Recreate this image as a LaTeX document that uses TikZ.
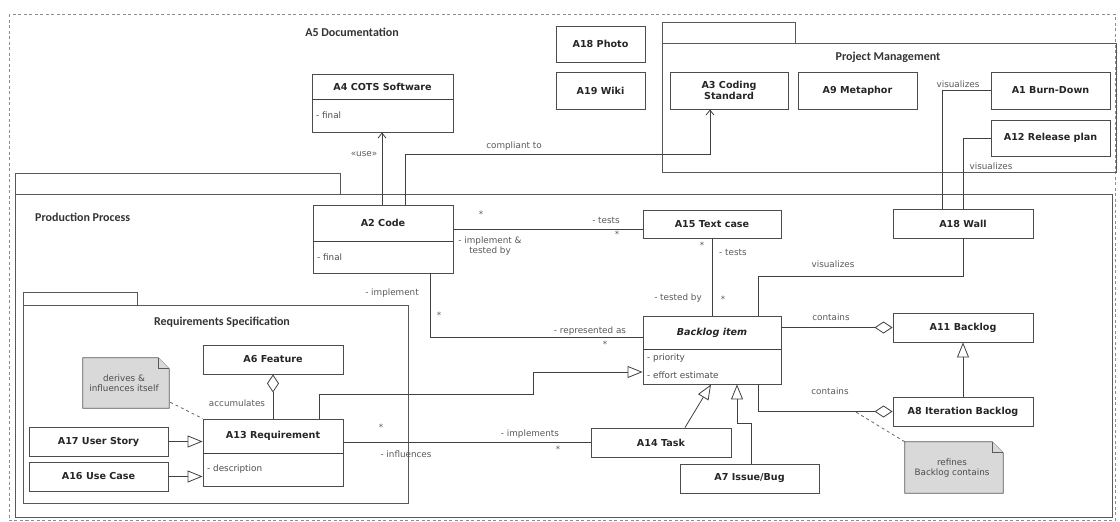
\documentclass[tikz,border=0pt]{standalone}
\usepackage{fontspec}
\setmainfont{Liberation Sans}
\newfontfamily\dvs{DejaVu Sans}
\newfontfamily\pkgfam{Carlito}
\usetikzlibrary{arrows.meta,calc}
\newcommand\clsfont{\dvs\bfseries\fontsize{9.6}{11}\selectfont}
\newcommand\lblfont{\dvs\fontsize{8.8}{10}\selectfont}
\newcommand\pkgfont{\pkgfam\bfseries\fontsize{12}{13.5}\selectfont}
\tikzset{
 cls/.style={draw=black!70, line width=0.9pt, fill=white, inner sep=0pt},
 ttl/.style={font=\clsfont, text=black!85, inner sep=0pt, align=center},
 attr/.style={font=\lblfont, text=black!70, inner sep=0pt, anchor=west},
 lbl/.style={font=\lblfont, text=black!65, inner sep=0pt},
 conn/.style={draw=black!75, line width=0.8pt},
 gen/.style={conn, -{Triangle[open, length=15pt, width=12pt]}},
 dep/.style={conn, -{Straight Barb[length=5pt, width=8pt]}},
 aggr/.style={conn, {Diamond[open, length=18pt, width=12pt]}-},
 notedash/.style={draw=black!60, line width=0.8pt, dashed},
 noteshape/.style={draw=black!65, line width=0.8pt, fill=black!15},
 notetext/.style={font=\lblfont, text=black!70, inner sep=0pt, align=center},
 pkgline/.style={draw=black!65, line width=0.9pt},
 pkgtitle/.style={font=\pkgfont, text=black!80, inner sep=0pt},
 frame/.style={draw=black!45, line width=1pt, dash pattern=on 3pt off 2.5pt},
}
\begin{document}
\begin{tikzpicture}[x=1pt,y=-1pt]
\useasboundingbox (0,0) rectangle (1120,522);
% outer dashed frame (A5 Documentation)
\draw[frame] (9,14) rectangle (1115,520);
\node[pkgtitle] (docT) at (352,32) {A5 Documentation};

% Project Management package
\draw[pkgline] (662,43) rectangle (795,22);
\draw[pkgline] (662,43) rectangle (1116,172);
\node[pkgtitle] (pmT) at (888,57) {Project Management};

% Production Process package
\draw[pkgline] (15,194) rectangle (340,173);
\draw[pkgline] (15,194) rectangle (1112,517);
\node[pkgtitle, anchor=west] (ppT) at (35,217) {Production Process};

% Requirements Specification package
\draw[pkgline] (23,305) rectangle (137,292);
\draw[pkgline] (23,305) rectangle (408,503);
\node[pkgtitle] (rsT) at (222,322) {Requirements Specification};

% ---- classes ----
\node[cls, minimum width=141, minimum height=58] (a4) at (382.5,103) {};
\draw[conn] (a4.west |- 0,99) -- (a4.east |- 0,99);
\node[ttl] (a4t) at (382.5,87) {A4 COTS Software};
\node[attr] (a4a) at (316,115) {- final};

\node[cls, minimum width=89, minimum height=36] (a18) at (600.5,44) {};
\node[ttl] (a18t) at (a18) {A18 Photo};
\node[cls, minimum width=89, minimum height=37] (a19) at (600.5,90.5) {};
\node[ttl] (a19t) at (a19) {A19 Wiki};

\node[cls, minimum width=118, minimum height=37] (a3) at (729,90.5) {};
\node[ttl] (a3t) at (a3) {A3 Coding\\Standard};
\node[cls, minimum width=119, minimum height=37] (a9) at (857.5,90.5) {};
\node[ttl] (a9t) at (a9) {A9 Metaphor};
\node[cls, minimum width=119, minimum height=37] (a1) at (1050.5,90.5) {};
\node[ttl] (a1t) at (a1) {A1 Burn-Down};
\node[cls, minimum width=119, minimum height=36] (a12) at (1050.5,138) {};
\node[ttl] (a12t) at (a12) {A12 Release plan};

\node[cls, minimum width=140, minimum height=29] (wall) at (963,223.5) {};
\node[ttl] (wallt) at (wall) {A18 Wall};

\node[cls, minimum width=140, minimum height=68] (a2) at (383,239) {};
\draw[conn] (a2.west |- 0,241) -- (a2.east |- 0,241);
\node[ttl] (a2t) at (383,223) {A2 Code};
\node[attr] (a2a) at (317,257) {- final};

\node[cls, minimum width=138, minimum height=28] (a15) at (712,224) {};
\node[ttl] (a15t) at (a15) {A15 Text case};

\node[cls, minimum width=138, minimum height=68] (bl) at (712,350) {};
\draw[conn] (bl.west |- 0,349) -- (bl.east |- 0,349);
\node[ttl, font=\clsfont\itshape] (blt) at (712,333) {Backlog item};
\node[attr] (bla1) at (647,358) {- priority};
\node[attr] (bla2) at (647,375) {- effort estimate};

\node[cls, minimum width=140, minimum height=29] (a11) at (963,327.5) {};
\node[ttl] (a11t) at (a11) {A11 Backlog};
\node[cls, minimum width=140, minimum height=29] (a8) at (963,411.5) {};
\node[ttl] (a8t) at (a8) {A8 Iteration Backlog};

\node[cls, minimum width=140, minimum height=29] (a14) at (661,442.5) {};
\node[ttl] (a14t) at (a14) {A14 Task};
\node[cls, minimum width=139, minimum height=29] (a7) at (749.5,478.5) {};
\node[ttl] (a7t) at (a7) {A7 Issue/Bug};

\node[cls, minimum width=140, minimum height=67] (a13) at (273,452.5) {};
\draw[conn] (a13.west |- 0,453) -- (a13.east |- 0,453);
\node[ttl] (a13t) at (273,436) {A13 Requirement};
\node[attr] (a13a) at (207,469) {- description};

\node[cls, minimum width=140, minimum height=29] (a6) at (273,359.5) {};
\node[ttl] (a6t) at (a6) {A6 Feature};
\node[cls, minimum width=139, minimum height=29] (a17) at (98.5,441.5) {};
\node[ttl] (a17t) at (a17) {A17 User Story};
\node[cls, minimum width=139, minimum height=29] (a16) at (98.5,476.5) {};
\node[ttl] (a16t) at (a16) {A16 Use Case};

% ---- notes ----
\node[inner sep=0pt, minimum width=86, minimum height=50] (n1) at (126,383) {};
\draw[noteshape] (n1.north west) -- ([xshift=-11pt]n1.north east) -- ([yshift=-11pt]n1.north east) -- (n1.south east) -- (n1.south west) -- cycle;
\draw[noteshape] ([xshift=-11pt]n1.north east) -- ([xshift=-11pt,yshift=-11pt]n1.north east) -- ([yshift=-11pt]n1.north east);
\node[notetext] (n1t) at (124,383) {derives \&\\influences itself};

\node[inner sep=0pt, minimum width=98, minimum height=51] (n2) at (954,467.5) {};
\draw[noteshape] (n2.north west) -- ([xshift=-11pt]n2.north east) -- ([yshift=-11pt]n2.north east) -- (n2.south east) -- (n2.south west) -- cycle;
\draw[noteshape] ([xshift=-11pt]n2.north east) -- ([xshift=-11pt,yshift=-11pt]n2.north east) -- ([yshift=-11pt]n2.north east);
\node[notetext] (n2t) at (952,468) {refines\\Backlog contains};

% ---- connectors ----
% A2 uses A4
\draw[dep] (382,0 |- a2.north) -- (382,0 |- a4.south);
\node[lbl] (useL) at (364,154) {«use»};
% A2 compliant to A3
\draw[dep] (405,0 |- a2.north) |- (710,154) -- (710,0 |- a3.south);
\node[lbl] (compL) at (514,146) {compliant to};
% A1, A12 visualize wall
\draw[conn] (a1.west) -| (942,0 |- wall.north);
\node[lbl] (vis1) at (958,84) {visualizes};
\draw[conn] (a12.west) -| (wall.north);
\node[lbl] (vis2) at (991,166) {visualizes};
% A2 -- A15
\draw[conn] (a2.east |- 0,229) -- (a15.west |- 0,229);
\node[lbl] (s1) at (481,214) {*};
\node[lbl] (tst1) at (606,220) {- tests};
\node[lbl] (s2) at (617,234) {*};
\node[lbl, align=center] (impL) at (490,246) {- implement \&\\tested by};
% A15 -- Backlog item
\draw[conn] (a15.south) -- (bl.north);
\node[lbl] (s3) at (702,245) {*};
\node[lbl, anchor=west] (tst2) at (719,252) {- tests};
\node[lbl] (tby) at (678,298) {- tested by};
\node[lbl] (s4) at (723,299) {*};
% A2 -- Backlog item
\draw[conn] (430,0 |- a2.south) |- (bl.west |- 0,337);
\node[lbl] (impl2) at (392,293) {- implement};
\node[lbl] (s5) at (439,315) {*};
\node[lbl] (repL) at (590,331) {- represented as};
\node[lbl] (s6) at (605,344) {*};
% Backlog item visualized by wall
\draw[conn] (758,0 |- bl.north) -- (758,276) -| (wall.south);
\node[lbl] (vis3) at (833,264) {visualizes};
% contains
\draw[aggr] (a11.west) -- (bl.east |- a11.west);
\node[lbl] (con1) at (831,317) {contains};
\draw[aggr] (a8.west) -| (758,0 |- bl.south);
\node[lbl] (con2) at (830,391) {contains};
\coordinate (c8) at (855,411.5);
\draw[notedash] (n2.north west) -- (c8);
% A8 is a A11
\draw[gen] (a8.north) -- (a11.south);
% A14, A7 are Backlog items
\draw[gen] (685,0 |- a14.north) -- (711,0 |- bl.south);
\draw[gen] (751,0 |- a7.north) |- (737,423) -- (737,0 |- bl.south);
% A13 is a Backlog item
\draw[gen] (319,0 |- a13.north) |- (533,394) |- (bl.west |- 0,372);
% A6 accumulates A13
\draw[aggr] (a6.south) -- (a13.north);
\node[lbl] (accL) at (237,403) {accumulates};
\draw[notedash] ($(n1.south east)+(1,-6)$) -- (a13.north west);
% A17, A16 are A13
\draw[gen] (a17.east) -- (a13.west |- a17.east);
\draw[gen] (a16.east) -- (a13.west |- a16.east);
% A13 -- A14
\draw[conn] (a13.east |- a14.west) -- (a14.west);
\node[lbl] (s7) at (381,427) {*};
\node[lbl] (inflL) at (406,454) {- influences};
\node[lbl] (implL) at (530,434) {- implements};
\node[lbl] (s8) at (558,449) {*};
\end{tikzpicture}
\end{document}
